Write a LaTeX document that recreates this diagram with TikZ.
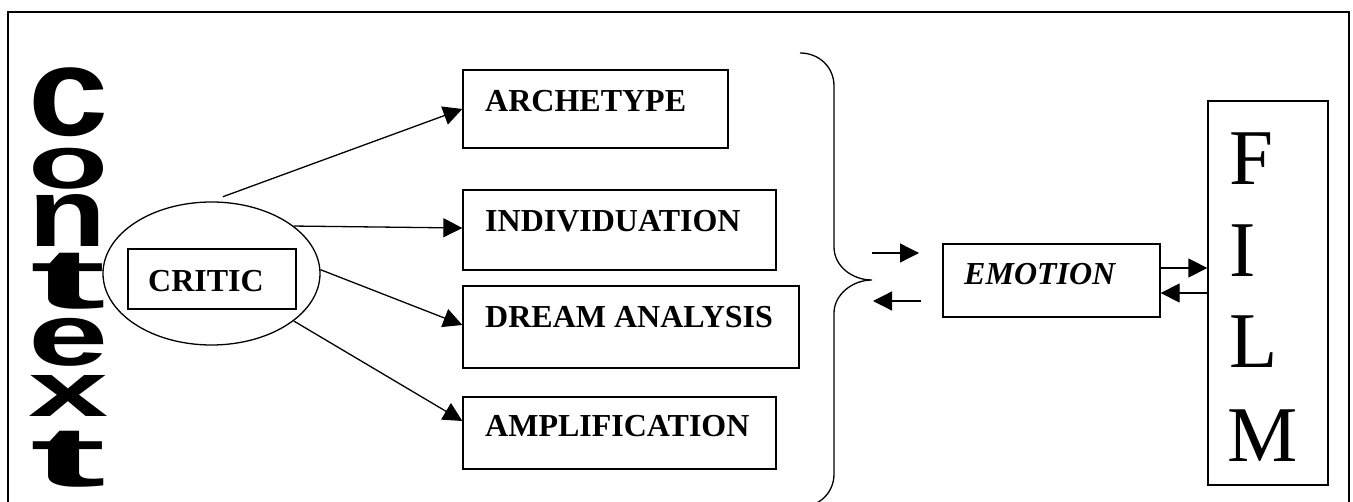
\documentclass[tikz,border=0pt]{standalone}
\usepackage{graphicx}
\usepackage{fontspec}
\setmainfont{Liberation Serif}
\newfontfamily\ctxfont{Liberation Sans}
\usetikzlibrary{arrows.meta,shapes.geometric}
\newcommand{\ctxletter}[3]{\resizebox*{#1}{#2}{\ctxfont\bfseries #3}}
\tikzset{
  lw/.style={line width=1.3pt},
  boxnode/.style={draw, lw, rectangle, inner sep=0pt},
  lbl/.style={anchor=base west, inner sep=0pt, font=\fontsize{32}{38}\selectfont\bfseries},
  filmletter/.style={anchor=base west, inner sep=0pt, font=\fontsize{79}{92}\selectfont},
  ctx/.style={anchor=north west, inner sep=0pt},
  arr/.style={lw, -{Triangle[length=19pt,width=19pt]}},
}
\begin{document}
\begin{tikzpicture}[x=1pt,y=-1pt]
\useasboundingbox (0,0) rectangle (1353,502);
\fill[white] (0,0) rectangle (1353,502);
% outer frame
\draw[line width=1.8pt] (8,504) -- (8,12) -- (1349,12) -- (1349,504);

% context letters
\node[ctx] (c1) at (28,68) {\ctxletter{80pt}{69pt}{c}};
\node[ctx] (c2) at (28,148) {\ctxletter{80pt}{41pt}{o}};
\node[ctx] (c3) at (28,194) {\ctxletter{78pt}{52pt}{n}};
\node[ctx] (c4) at (30,253) {\ctxletter{76pt}{56pt}{t}};
\node[ctx] (c5) at (28,318) {\ctxletter{80pt}{48pt}{e}};
\node[ctx] (c6) at (28,375) {\ctxletter{80pt}{41pt}{x}};
\node[ctx] (c7) at (30,431) {\ctxletter{76pt}{56pt}{t}};

% critic
\node[draw, lw, ellipse, minimum width=217pt, minimum height=143pt, inner sep=0pt] (ell) at (211.5,273.5) {};
\node[boxnode, minimum width=168pt, minimum height=60pt] (critic) at (212,279) {};
\node[lbl] (criticlbl) at (148,292) {CRITIC};

% right boxes
\node[boxnode, minimum width=265pt, minimum height=78pt] (arch) at (595.5,109) {};
\node[lbl] (archlbl) at (485,112) {ARCHETYPE};
\node[boxnode, minimum width=313pt, minimum height=80pt] (indiv) at (619.5,230) {};
\node[lbl] (indivlbl) at (485,232) {INDIVIDUATION};
\node[boxnode, minimum width=336pt, minimum height=82pt] (dream) at (631,327) {};
\node[lbl] (dreamlbl) at (485,328) {DREAM ANALYSIS};
\node[boxnode, minimum width=313pt, minimum height=72pt] (ampl) at (619.5,433) {};
\node[lbl] (ampllbl) at (485,437) {AMPLIFICATION};

% arrows from critic
\draw[arr] ([yshift=5pt]ell.81) -- (arch.west);
\draw[arr] (ell.30) -- ([yshift=2pt]indiv.west);
\draw[arr] (ell.2) -- ([yshift=2pt]dream.west);
\draw[arr] (ell.-30) -- ([yshift=12pt]ampl.west);

% brace
\draw[lw] (800,53) .. controls (819,53) and (834,67) .. (834,86)
  -- (834,247) .. controls (834,266) and (852,280) .. (872,280)
  .. controls (852,280) and (834,295) .. (834,313)
  -- (834,474) .. controls (834,493) and (819,507) .. (800,507);

% brace arrows
\coordinate (b1s) at (872,253);
\coordinate (b1e) at (919,253);
\coordinate (b2s) at (921,301);
\coordinate (b2e) at (873,301);
\draw[arr] (b1s) -- (b1e);
\draw[arr] (b2s) -- (b2e);

% emotion
\node[boxnode, minimum width=217pt, minimum height=73pt] (emo) at (1051.5,280.5) {};
\node[lbl, font=\fontsize{32}{38}\selectfont\bfseries\itshape] (emolbl) at (964,285) {EMOTION};

% film
\node[boxnode, minimum width=120pt, minimum height=384pt] (film) at (1268,293) {};
\node[filmletter] (fF) at (1229,185) {F};
\node[filmletter] (fI) at (1229,277) {I};
\node[filmletter] (fL) at (1229,368) {L};
\node[filmletter] (fM) at (1227,462) {M};

\coordinate (e1) at ([yshift=12.5pt]emo.east);
\coordinate (e2) at ([yshift=-12.5pt]emo.east);
\draw[arr] (e1) -- (e1 -| film.west);
\draw[arr] (e2 -| film.west) -- (e2);
\end{tikzpicture}
\end{document}
